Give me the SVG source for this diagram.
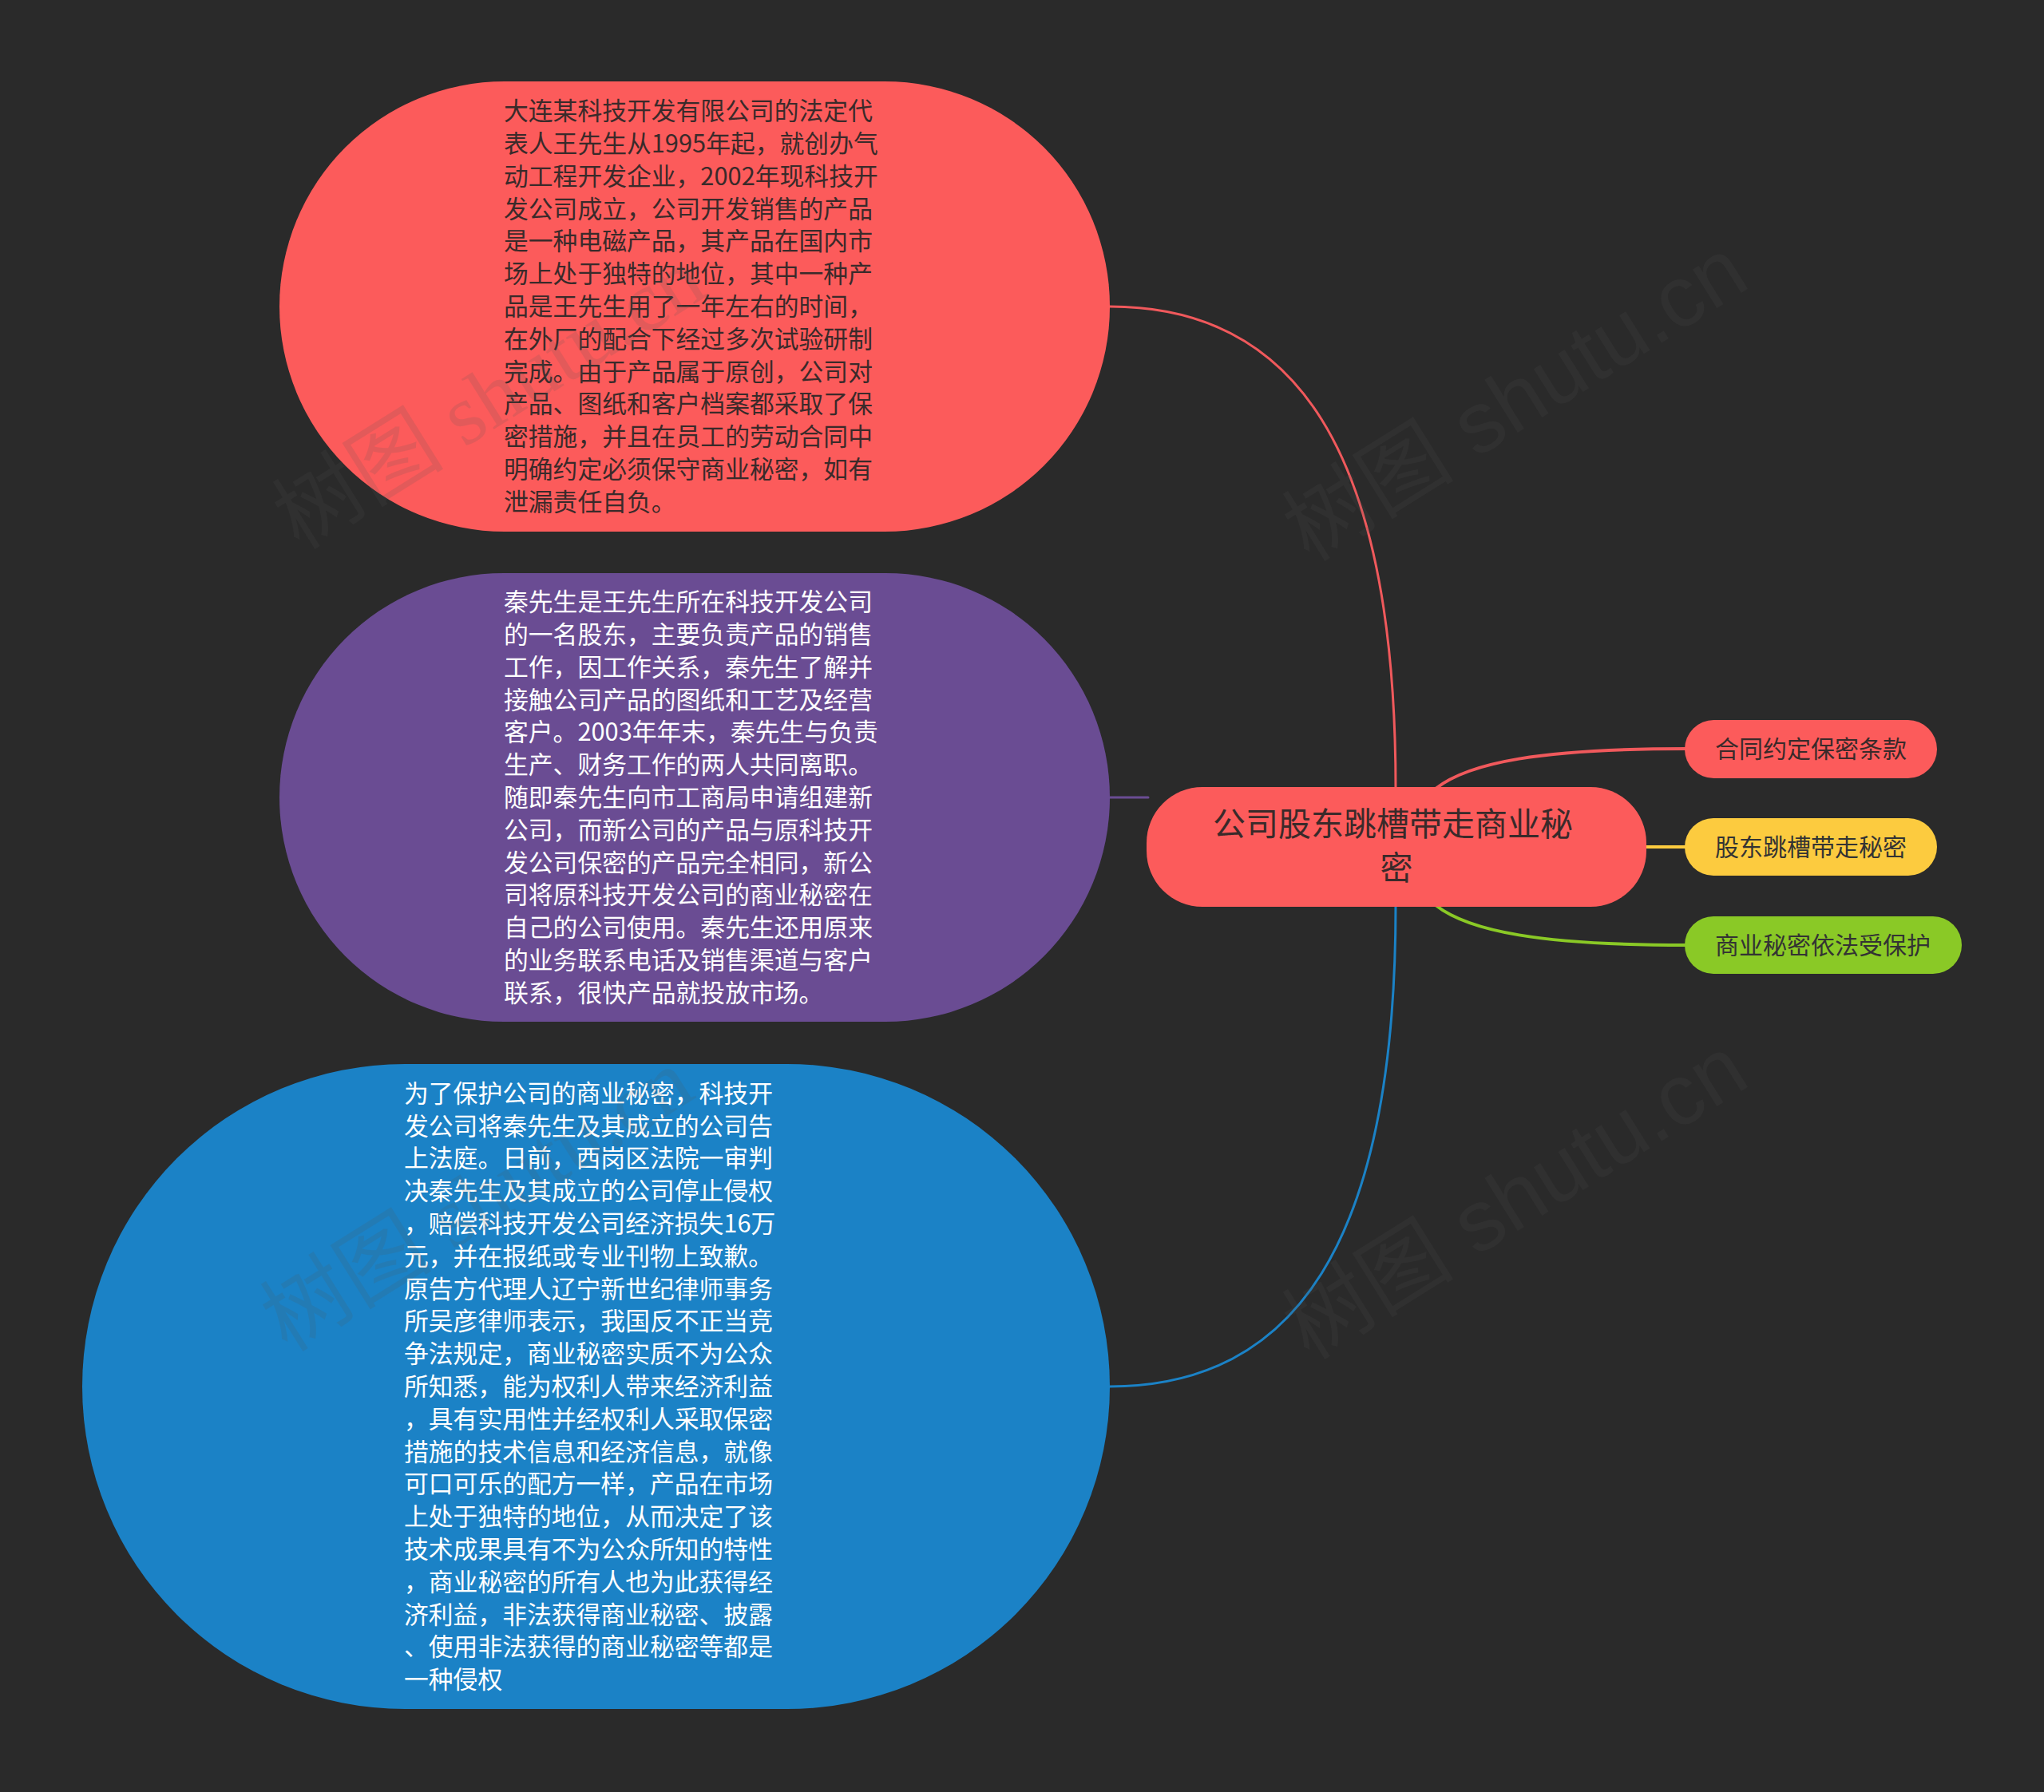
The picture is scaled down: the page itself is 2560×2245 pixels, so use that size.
<svg xmlns="http://www.w3.org/2000/svg" width="2560" height="2245" viewBox="0 0 2560 2245">
<style>
.bg{fill:#2a2a2a}
.big{font-family:"Noto Sans CJK SC","Noto Sans",sans-serif;font-size:30.8px}
.sub{font-family:"Noto Sans CJK SC","Noto Sans",sans-serif;font-size:30px}
.dark{fill:#3a2a2a}
.light{fill:#ffffff}
.conn{fill:none;stroke-linecap:round}
.wm{font-size:108px;fill:#555555;opacity:0.15}
</style>
<rect class="bg" x="0" y="0" width="2560" height="2245"/>
<g id="connectors">
<path class="conn" d="M1390 384 C1620 384 1748 560 1748 988" stroke="#f0595c" stroke-width="3"/>
<path class="conn" d="M1390 999 L1438 999" stroke="#6a4c93" stroke-width="3"/>
<path class="conn" d="M1390 1737 C1620 1737 1748 1560 1748 1134" stroke="#1b82c6" stroke-width="3"/>
<path class="conn" d="M1798 988 C1840 955 1930 938 2112 938" stroke="#f0595c" stroke-width="4"/>
<path class="conn" d="M2060 1061 L2112 1061" stroke="#fccb3f" stroke-width="4"/>
<path class="conn" d="M1798 1134 C1840 1167 1930 1184 2112 1184" stroke="#8ac926" stroke-width="4"/>
</g>
<g id="node1">
<rect x="350" y="102" width="1040" height="564" rx="282" ry="282" fill="#fc5b5b"/>
<text class="big dark" x="631">
<tspan x="631" y="150">大连某科技开发有限公司的法定代</tspan>
<tspan x="631" y="191">表人王先生从1995年起，就创办气</tspan>
<tspan x="631" y="232">动工程开发企业，2002年现科技开</tspan>
<tspan x="631" y="273">发公司成立，公司开发销售的产品</tspan>
<tspan x="631" y="313">是一种电磁产品，其产品在国内市</tspan>
<tspan x="631" y="354">场上处于独特的地位，其中一种产</tspan>
<tspan x="631" y="395">品是王先生用了一年左右的时间，</tspan>
<tspan x="631" y="436">在外厂的配合下经过多次试验研制</tspan>
<tspan x="631" y="477">完成。由于产品属于原创，公司对</tspan>
<tspan x="631" y="517">产品、图纸和客户档案都采取了保</tspan>
<tspan x="631" y="558">密措施，并且在员工的劳动合同中</tspan>
<tspan x="631" y="599">明确约定必须保守商业秘密，如有</tspan>
<tspan x="631" y="640">泄漏责任自负。</tspan>
</text>
</g>
<g id="node2">
<rect x="350" y="718" width="1040" height="562" rx="281" ry="281" fill="#6a4c93"/>
<text class="big light" x="631">
<tspan x="631" y="765">秦先生是王先生所在科技开发公司</tspan>
<tspan x="631" y="806">的一名股东，主要负责产品的销售</tspan>
<tspan x="631" y="847">工作，因工作关系，秦先生了解并</tspan>
<tspan x="631" y="888">接触公司产品的图纸和工艺及经营</tspan>
<tspan x="631" y="928">客户。2003年年末，秦先生与负责</tspan>
<tspan x="631" y="969">生产、财务工作的两人共同离职。</tspan>
<tspan x="631" y="1010">随即秦先生向市工商局申请组建新</tspan>
<tspan x="631" y="1051">公司，而新公司的产品与原科技开</tspan>
<tspan x="631" y="1092">发公司保密的产品完全相同，新公</tspan>
<tspan x="631" y="1132">司将原科技开发公司的商业秘密在</tspan>
<tspan x="631" y="1173">自己的公司使用。秦先生还用原来</tspan>
<tspan x="631" y="1214">的业务联系电话及销售渠道与客户</tspan>
<tspan x="631" y="1255">联系，很快产品就投放市场。</tspan>
</text>
</g>
<g id="node3">
<rect x="103" y="1333" width="1287" height="808" rx="404" ry="404" fill="#1b82c6"/>
<text class="big light" x="506">
<tspan x="506" y="1381">为了保护公司的商业秘密，科技开</tspan>
<tspan x="506" y="1422">发公司将秦先生及其成立的公司告</tspan>
<tspan x="506" y="1462">上法庭。日前，西岗区法院一审判</tspan>
<tspan x="506" y="1503">决秦先生及其成立的公司停止侵权</tspan>
<tspan x="506" y="1544">，赔偿科技开发公司经济损失16万</tspan>
<tspan x="506" y="1585">元，并在报纸或专业刊物上致歉。</tspan>
<tspan x="506" y="1626">原告方代理人辽宁新世纪律师事务</tspan>
<tspan x="506" y="1666">所吴彦律师表示，我国反不正当竞</tspan>
<tspan x="506" y="1707">争法规定，商业秘密实质不为公众</tspan>
<tspan x="506" y="1748">所知悉，能为权利人带来经济利益</tspan>
<tspan x="506" y="1789">，具有实用性并经权利人采取保密</tspan>
<tspan x="506" y="1830">措施的技术信息和经济信息，就像</tspan>
<tspan x="506" y="1870">可口可乐的配方一样，产品在市场</tspan>
<tspan x="506" y="1911">上处于独特的地位，从而决定了该</tspan>
<tspan x="506" y="1952">技术成果具有不为公众所知的特性</tspan>
<tspan x="506" y="1993">，商业秘密的所有人也为此获得经</tspan>
<tspan x="506" y="2034">济利益，非法获得商业秘密、披露</tspan>
<tspan x="506" y="2074">、使用非法获得的商业秘密等都是</tspan>
<tspan x="506" y="2115">一种侵权</tspan>
</text>
</g>
<g id="center">
<rect x="1436" y="986" width="626" height="150" rx="70" ry="70" fill="#fc5b5b"/>
<text class="dark" font-family="Noto Sans CJK SC, Noto Sans, sans-serif" font-size="41" text-anchor="middle">
<tspan x="1749" y="1047">公司股东跳槽带走商业秘</tspan>
<tspan x="1749" y="1102">密</tspan>
</text>
</g>
<g id="sub1">
<rect x="2110" y="902" width="316" height="73" rx="36.5" ry="36.5" fill="#fc5b5b"/>
<text class="sub dark" x="2268" y="949" text-anchor="middle">合同约定保密条款</text>
</g>
<g id="sub2">
<rect x="2110" y="1025" width="316" height="72" rx="36" ry="36" fill="#fccb3f"/>
<text class="sub" fill="#333333" x="2268" y="1072" text-anchor="middle">股东跳槽带走秘密</text>
</g>
<g id="sub3">
<rect x="2110" y="1148" width="347" height="72" rx="36" ry="36" fill="#8ac926"/>
<text class="sub" fill="#333333" x="2283" y="1195" text-anchor="middle">商业秘密依法受保护</text>
</g>
<g id="watermarks">
<text class="wm" font-family="Liberation Serif, Noto Sans CJK SC, serif" transform="translate(375 690) rotate(-32)">树图 shutu.cn</text>
<text class="wm" font-family="Liberation Sans, Noto Sans CJK SC, sans-serif" transform="translate(1640 705) rotate(-32)">树图 shutu.cn</text>
<text class="wm" font-family="Liberation Serif, Noto Sans CJK SC, serif" transform="translate(360 1695) rotate(-32)">树图 shutu.cn</text>
<text class="wm" font-family="Liberation Sans, Noto Sans CJK SC, sans-serif" transform="translate(1640 1705) rotate(-32)">树图 shutu.cn</text>
</g>
</svg>
